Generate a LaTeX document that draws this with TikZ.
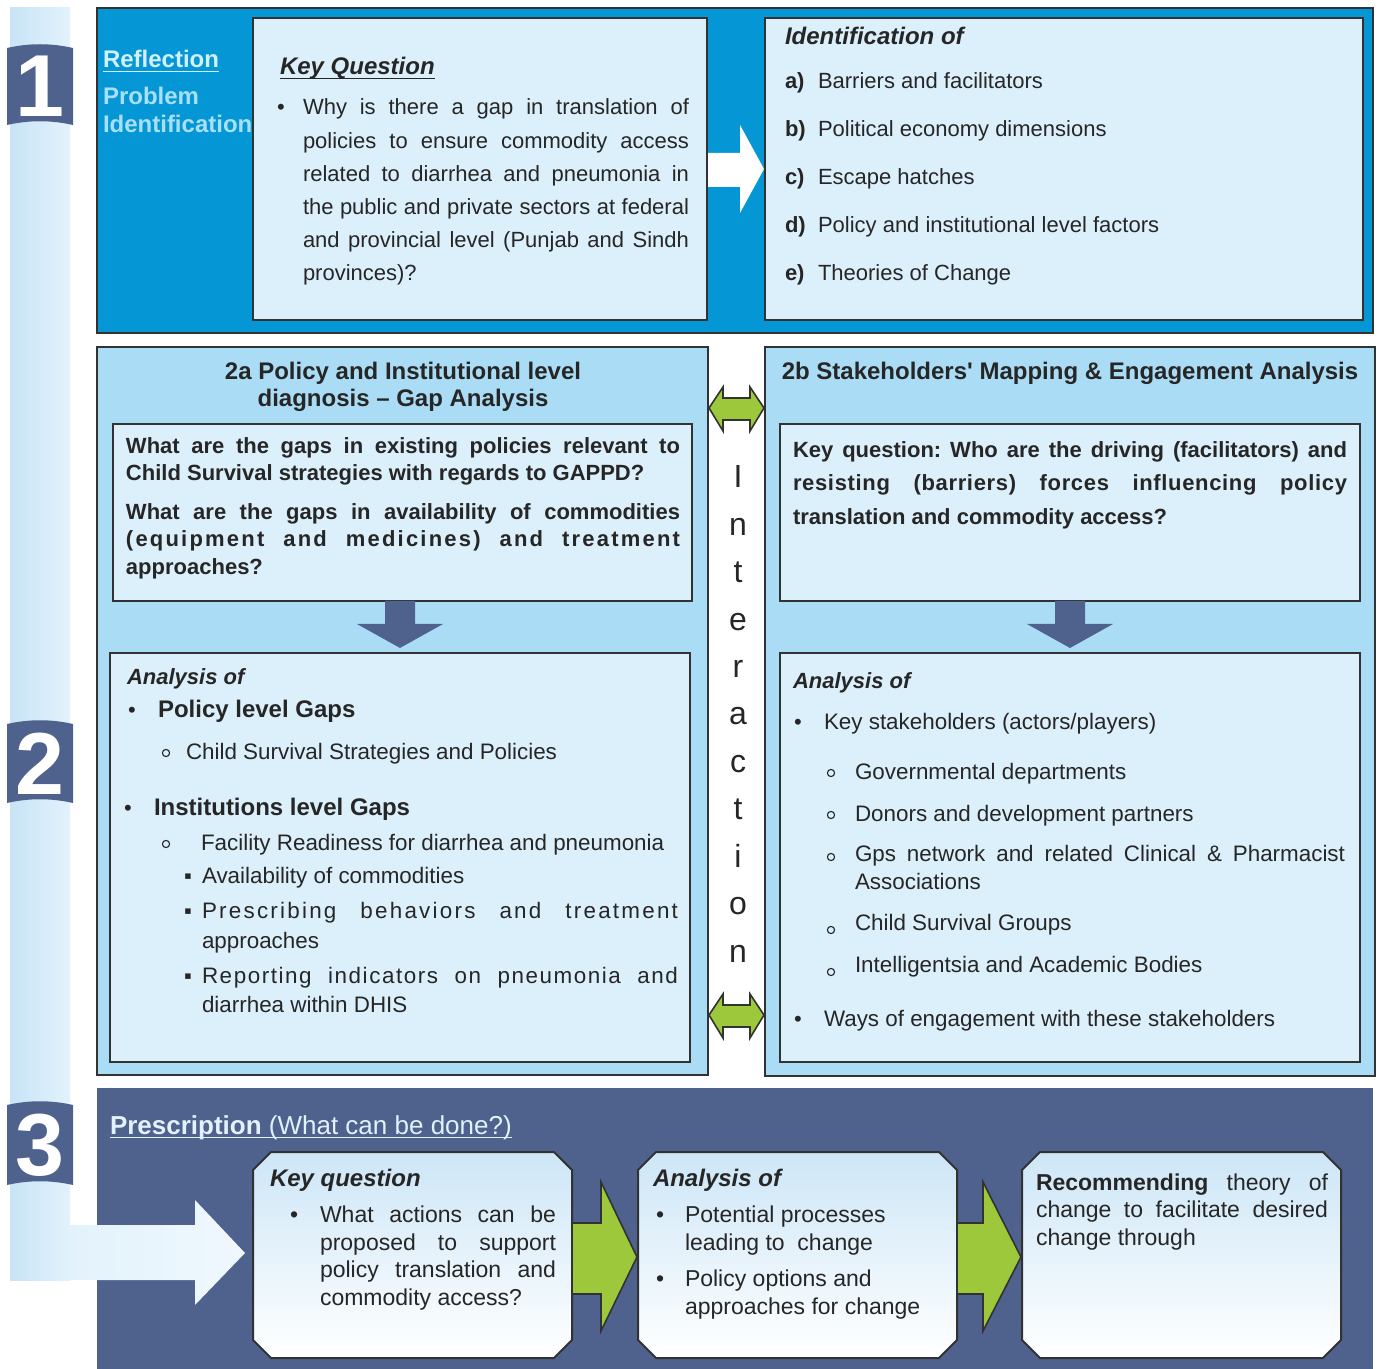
\documentclass[tikz,border=0pt]{standalone}
\usepackage{fontspec}
\setmainfont{Liberation Sans}
\usetikzlibrary{fit}
\definecolor{secone}{RGB}{5,150,214}
\definecolor{pale}{RGB}{220,240,251}
\definecolor{sectwo}{RGB}{170,221,245}
\definecolor{slate}{RGB}{78,98,141}
\definecolor{lime}{RGB}{157,200,60}
\definecolor{edge}{RGB}{50,50,50}
\definecolor{ink}{RGB}{38,38,38}
\definecolor{refl}{RGB}{210,240,253}
\definecolor{probl}{RGB}{168,224,248}
\definecolor{stripA}{RGB}{200,228,246}
\definecolor{stripB}{RGB}{226,242,252}
\definecolor{stripC}{RGB}{240,248,253}
\definecolor{presc}{RGB}{225,242,252}
\definecolor{octtop}{RGB}{205,230,247}
\newcommand{\J}[2]{\makebox[#1][s]{#2}}
\newcommand{\LS}[1]{{\addfontfeatures{LetterSpace=#1}}}
\newcommand{\fs}[1]{\fontsize{#1}{#1}\selectfont}
\newcommand{\myul}[1]{\leavevmode\setbox0=\hbox{#1}\rlap{\raisebox{-2.2pt}{\rule{\wd0}{0.6pt}}}\box0}
\frenchspacing
\tikzset{
  box/.style={draw=edge, line width=1pt, inner sep=0pt},
  tx/.style={anchor=base west, inner sep=0pt, outer sep=0pt, text=ink, font=\frenchspacing\fs{11}},
  octo/.style={draw=edge, line width=1pt, top color=octtop, bottom color=white},
  greenarrow/.style={fill=lime, draw=edge, line width=0.8pt},
  bluearrow/.style={fill=slate},
  letter/.style={anchor=base, inner sep=0pt, text=ink, font=\fs{16}},
  ring/.style={circle, draw=ink, line width=0.55pt, inner sep=0pt, minimum size=3.6pt},
}
\newcommand{\oct}[5]{%
  \draw[octo] (#2+18,#3) -- (#4-18,#3) -- (#4,#3+18) -- (#4,#5-18) -- (#4-18,#5) -- (#2+18,#5) -- (#2,#5-18) -- (#2,#3+18) -- cycle;
  \node[fit={(#2,#3) (#4,#5)}, inner sep=0pt] (#1) {};}
\newcommand{\badge}[4]{%
  \fill[slate] (7,#2) .. controls (29,#2-5) and (51,#2-5) .. (73,#2) -- (73,#3) .. controls (51,#3-5) and (29,#3-5) .. (7,#3) -- cycle;
  \node[font=\bfseries\fs{44}, text=white, inner sep=0pt] (#1) at (40,{(#2+#3)/2}) {#4};}
\newcommand{\dbl}[1]{%
  \draw[greenarrow] (709,#1) -- (723,#1-21) -- (723,#1-10) -- (750,#1-10) -- (750,#1-21) -- (764,#1) -- (750,#1+23) -- (750,#1+12) -- (723,#1+12) -- (723,#1+23) -- cycle;}
\begin{document}
\begin{tikzpicture}[x=0.5pt,y=-0.5pt]
\useasboundingbox (0,0) rectangle (1378,1369);
\fill[white] (0,0) rectangle (1378,1369);

% left strip
\shade[left color=stripA, right color=stripB] (10,8) rectangle (70,1280);

% ---------- Section 1 ----------
\node[fit={(97,8) (1373,333)}, box, fill=secone] (s1) {};
\node[fit={(253,18) (707,320)}, box, fill=pale] (kq1) {};
\node[fit={(765,18) (1363,320)}, box, fill=pale] (id1) {};

\node[tx, font=\bfseries\fs{12}, text=refl] (refl) at (103,68) {\myul{Reflection}};
\node[tx, font=\bfseries\fs{12}, text=probl] (prob1) at (103,105) {Problem};
\node[tx, font=\bfseries\fs{12}, text=probl] (prob2) at (103,133) {Identification};

\node[tx, font=\bfseries\itshape\fs{12}] (kqh) at (280,75) {\myul{Key Question}};
\node[tx] (kqb) at (277,115) {•};
\foreach \s [count=\i from 0] in {{Why is there a gap in translation of},{policies to ensure commodity access},{related to diarrhea and pneumonia in},{the public and private sectors at federal},{and provincial level (Punjab and Sindh}}
  \node[tx] (kql\i) at (303,115+33.2*\i) {\J{193pt}{\s}};
\node[tx] (kql5) at (303,281) {provinces)?};

\fill[white] (708,153) -- (740,153) -- (740,125) -- (764,169) -- (740,213) -- (740,187) -- (708,187) -- cycle;

\node[tx, font=\bfseries\itshape\fs{12}] (idh) at (785,45) {Identification of};
\foreach \l/\s [count=\i from 0] in {a)/Barriers and facilitators, b)/Political economy dimensions, c)/Escape hatches, d)/Policy and institutional level factors, e)/Theories of Change}{
  \node[tx, font=\bfseries\fs{11}] (idl\i) at (785,89+48*\i) {\l};
  \node[tx] (idt\i) at (818,89+48*\i) {\s};
}

% ---------- Section 2 ----------
\node[fit={(97,347) (708,1075)}, box, fill=sectwo] (s2a) {};
\node[fit={(765,347) (1375,1076)}, box, fill=sectwo] (s2b) {};

\node[tx, anchor=base, font=\bfseries\fs{12}] (h2a1) at (403,380) {2a Policy and Institutional level};
\node[tx, anchor=base, font=\bfseries\fs{12}] (h2a2) at (403,407) {diagnosis – Gap Analysis};
\node[tx, anchor=base, font=\bfseries\fs{12}] (h2b) at (1070,380) {2b Stakeholders\textquotesingle{} Mapping \& Engagement Analysis};

\node[fit={(113,424) (692,601)}, box, fill=pale] (q2a) {};
\node[fit={(780,424) (1360,601)}, box, fill=pale] (q2b) {};
\node[fit={(110,653) (690,1062)}, box, fill=pale] (an2a) {};
\node[fit={(780,653) (1360,1062)}, box, fill=pale] (an2b) {};

\fill[bluearrow] (385,601) -- (415,601) -- (415,624) -- (443,624) -- (400,648) -- (357,624) -- (385,624) -- cycle;
\fill[bluearrow] (1055,601) -- (1085,601) -- (1085,624) -- (1113,624) -- (1070,648) -- (1027,624) -- (1055,624) -- cycle;

\node[tx, font=\bfseries\fs{11}] (qa1) at (126,454) {\J{277pt}{What are the gaps in existing policies relevant to}};
\node[tx, font=\bfseries\fs{11}] (qa2) at (126,481) {Child Survival strategies with regards to GAPPD?};
\node[tx, font=\bfseries\fs{11}] (qa3) at (126,520) {\J{277pt}{What are the gaps in availability of commodities}};
\node[tx, font=\bfseries\fs{11}\addfontfeatures{LetterSpace=10}] (qa4) at (126,547) {\J{277pt}{(equipment and medicines) and treatment}};
\node[tx, font=\bfseries\fs{11}] (qa5) at (126,575) {approaches?};

\node[tx, font=\bfseries\fs{11}] (qb1) at (793,458) {\J{277pt}{Key question: Who are the driving (facilitators) and}};
\node[tx, font=\bfseries\fs{11}\addfontfeatures{LetterSpace=3}] (qb2) at (793,491) {\J{277pt}{resisting (barriers) forces influencing policy}};
\node[tx, font=\bfseries\fs{11}] (qb3) at (793,525) {translation and commodity access?};

% 2a analysis
\node[tx, font=\bfseries\itshape\fs{11}] (aa0) at (127,685) {Analysis of};
\node[tx, font=\fs{11}] (aab1) at (128,718) {•};
\node[tx, font=\bfseries\fs{12}] (aa1) at (158,718) {Policy level Gaps};
\node[ring] (aab2) at (166,753) {};
\node[tx, font=\fs{11.2}] (aa2) at (186,760) {Child Survival Strategies and Policies};
\node[tx, font=\fs{11}] (aab3) at (124,816) {•};
\node[tx, font=\bfseries\fs{12}] (aa3) at (154,816) {Institutions level Gaps};
\node[ring] (aab4) at (166,844) {};
\node[tx, font=\fs{11.2}] (aa4) at (201,850) {Facility Readiness for diarrhea and pneumonia};
\node[tx, font=\fs{11}] (aab5) at (184,884) {▪};
\node[tx, font=\fs{11.2}] (aa5) at (202,884) {Availability of commodities};
\node[tx, font=\fs{11}] (aab6) at (184,919) {▪};
\node[tx, font=\fs{11.2}\addfontfeatures{LetterSpace=10}] (aa6) at (202,919) {\J{238pt}{Prescribing behaviors and treatment}};
\node[tx, font=\fs{11.2}] (aa7) at (202,948) {approaches};
\node[tx, font=\fs{11}] (aab8) at (184,983) {▪};
\node[tx, font=\fs{11.2}\addfontfeatures{LetterSpace=7}] (aa8) at (202,983) {\J{238pt}{Reporting indicators on pneumonia and}};
\node[tx, font=\fs{11.2}] (aa9) at (202,1012) {diarrhea within DHIS};

% 2b analysis
\node[tx, font=\bfseries\itshape\fs{11}] (ab0) at (793,689) {Analysis of};
\node[tx, font=\fs{11}] (abb1) at (794,730) {•};
\node[tx, font=\fs{11.2}] (ab1) at (824,730) {Key stakeholders (actors/players)};
\node[ring] (abb2) at (831,773) {};
\node[tx, font=\fs{11.2}] (ab2) at (855,780) {Governmental departments};
\node[ring] (abb3) at (831,815) {};
\node[tx, font=\fs{11.2}] (ab3) at (855,821) {Donors and development partners};
\node[ring] (abb4) at (831,857) {};
\node[tx, font=\fs{11.2}] (ab4) at (855,862) {\J{245pt}{Gps network and related Clinical \& Pharmacist}};
\node[tx, font=\fs{11.2}] (ab5) at (855,889) {Associations};
\node[ring] (abb6) at (831,930) {};
\node[tx, font=\fs{11.2}] (ab6) at (855,930) {Child Survival Groups};
\node[ring] (abb7) at (831,972) {};
\node[tx, font=\fs{11.2}] (ab7) at (855,972) {Intelligentsia and Academic Bodies};
\node[tx, font=\fs{11}] (abb8) at (794,1026) {•};
\node[tx, font=\fs{11.2}] (ab8) at (824,1026) {Ways of engagement with these stakeholders};

% Interaction
\foreach \c [count=\i from 0] in {I,n,t,e,r,a,c,t,i,o,n}
  \node[letter] (int\i) at (738,488+47.4*\i) {\c};
\dbl{408}
\dbl{1015}

% ---------- Section 3 ----------
\node[fit={(97,1088) (1373,1369)}, fill=slate, inner sep=0pt] (s3) {};
\node[tx, font=\fs{13}, text=presc] (pres) at (110,1134) {\myul{\textbf{Prescription} (What can be done?)}};

\shade[left color=stripB, right color=stripC] (69,1225) -- (195,1225) -- (195,1200) -- (245,1253) -- (195,1305) -- (195,1280) -- (69,1280) -- cycle;

\oct{ba}{253}{1152}{572}{1358}
\oct{bb}{638}{1152}{957}{1358}
\oct{bc}{1022}{1152}{1341}{1358}

\draw[greenarrow] (572,1223) -- (601,1223) -- (601,1182) -- (637,1257) -- (601,1331) -- (601,1294) -- (572,1294) -- cycle;
\draw[greenarrow] (957,1223) -- (983,1223) -- (983,1182) -- (1021,1257) -- (983,1331) -- (983,1294) -- (957,1294) -- cycle;

\node[tx, font=\bfseries\itshape\fs{12}] (bah) at (270,1186) {Key question};
\node[tx, font=\fs{11.5}] (bab) at (290,1222) {•};
\node[tx, font=\fs{11.5}] (ba1) at (320,1222) {\J{118pt}{What actions can be}};
\node[tx, font=\fs{11.5}] (ba2) at (320,1250) {\J{118pt}{proposed to support}};
\node[tx, font=\fs{11.5}] (ba3) at (320,1277) {\J{118pt}{policy translation and}};
\node[tx, font=\fs{11.5}] (ba4) at (320,1305) {commodity access?};

\node[tx, font=\bfseries\itshape\fs{12}] (bbh) at (653,1186) {Analysis of};
\node[tx, font=\fs{11.5}] (bbb1) at (656,1222) {•};
\node[tx, font=\fs{11.5}] (bb1) at (685,1222) {Potential processes};
\node[tx, font=\fs{11.5}] (bb2) at (685,1250) {leading to\ \ change};
\node[tx, font=\fs{11.5}] (bbb2) at (656,1286) {•};
\node[tx, font=\fs{11.5}] (bb3) at (685,1286) {Policy options and};
\node[tx, font=\fs{11.5}] (bb4) at (685,1314) {approaches for change};

\node[tx, font=\fs{11.5}] (bc1) at (1036,1190) {\J{146pt}{\textbf{Recommending} theory of}};
\node[tx, font=\fs{11.5}] (bc2) at (1036,1217) {\J{146pt}{change to facilitate desired}};
\node[tx, font=\fs{11.5}] (bc3) at (1036,1245) {change through};

% badges
\badge{n1}{48}{125}{1}
\badge{n2}{724}{803}{2}
\badge{n3}{1105}{1185}{3}
\end{tikzpicture}
\end{document}
